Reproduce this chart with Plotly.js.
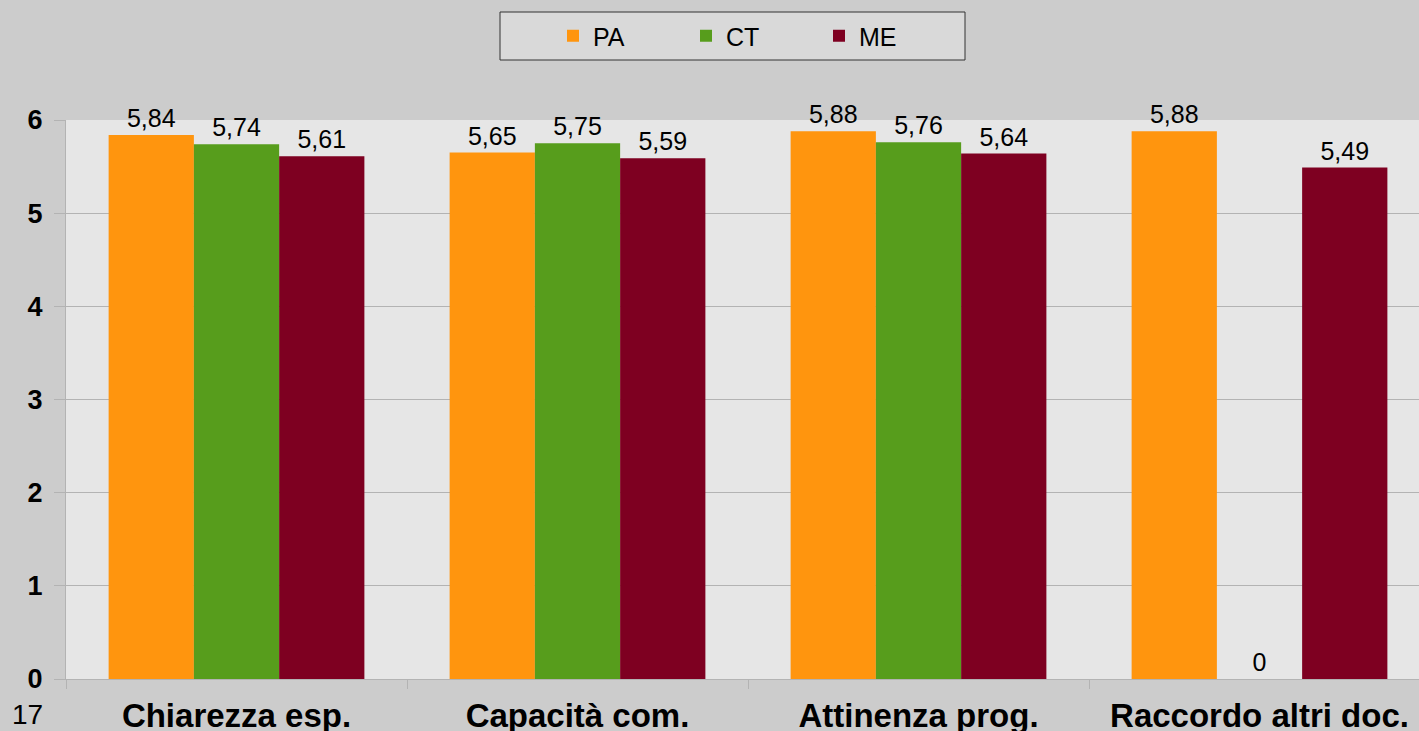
<!DOCTYPE html>
<html>
<head>
<meta charset="utf-8">
<script src="https://cdn.plot.ly/plotly-3.0.1.min.js"></script>
<style>html,body{margin:0;padding:0;background:#cccccc;}#chart{width:1419px;height:731px;}</style>
</head>
<body>
<div id="chart"></div>
<script>
const categories = ["Chiarezza esp.", "Capacità com.", "Attinenza prog.", "Raccordo altri doc."];
const seriesNames = ["PA", "CT", "ME"];
const PA = [5.84, 5.65, 5.88, 5.88];
const CT = [5.74, 5.75, 5.76, 0];
const ME = [5.61, 5.59, 5.64, 5.49];
const yTicks = [0, 1, 2, 3, 4, 5, 6];
const slideNumber = "17";

const colors = ["#ff950e", "#579d1c", "#7e0021"];
const FONT = "Liberation Sans, Arial, sans-serif";

function fmt(v) {
  return v === 0 ? "0" : v.toFixed(2).replace(".", ",");
}

const traces = [PA, CT, ME].map((vals, i) => ({
  type: "bar",
  name: seriesNames[i],
  x: categories,
  y: vals,
  text: vals.map(fmt),
  textposition: "outside",
  textfont: {family: FONT, size: 25, color: "#000000"},
  cliponaxis: false,
  marker: {color: colors[i], line: {width: 0}},
  hoverinfo: "x+y"
}));

const L = 66, W = 1419, PW = W - L;
const layout = {
  width: 1419,
  height: 731,
  margin: {l: L, r: 0, t: 120, b: 52, pad: 0},
  paper_bgcolor: "#cccccc",
  plot_bgcolor: "#e6e6e6",
  separators: ",.",
  barmode: "group",
  bargap: 0.25,
  bargroupgap: 0,
  font: {family: FONT, color: "#000000"},
  showlegend: true,
  legend: {
    orientation: "h",
    x: (553 - L) / PW,
    xanchor: "left",
    y: (679 - 36) / 559,
    yanchor: "middle",
    bgcolor: "rgba(0,0,0,0)",
    borderwidth: 0,
    entrywidth: 88,
    entrywidthmode: "pixels",
    font: {family: FONT, size: 25, color: "#000000"},
    traceorder: "normal"
  },
  shapes: [{
    type: "rect", xref: "paper", yref: "paper",
    x0: (500 - L) / PW, x1: (965 - L) / PW,
    y0: (679 - 12) / 559, y1: (679 - 60) / 559,
    fillcolor: "#d9d9d9", line: {color: "#333333", width: 1}, layer: "below"
  }],
  xaxis: {
    type: "category",
    range: [-0.5, -0.5 + PW / 341],
    tickson: "boundaries",
    ticks: "outside",
    ticklen: 9,
    tickcolor: "#b3b3b3",
    showline: true,
    linecolor: "#b3b3b3",
    linewidth: 1,
    showgrid: false,
    tickfont: {family: FONT, size: 33, color: "#000000", weight: "bold"},
    ticklabelstandoff: 7,
    fixedrange: true
  },
  yaxis: {
    range: [0, 6],
    tickvals: yTicks,
    ticktext: yTicks.map(String),
    ticks: "outside",
    ticklen: 11,
    tickcolor: "#b3b3b3",
    showline: true,
    linecolor: "#b3b3b3",
    linewidth: 1,
    showgrid: true,
    gridcolor: "#b3b3b3",
    gridwidth: 1,
    zeroline: false,
    tickfont: {family: FONT, size: 27, color: "#000000", weight: "bold"},
    ticklabelstandoff: 6,
    fixedrange: true
  },
  annotations: [{
    text: slideNumber,
    xref: "paper", yref: "paper",
    x: (10 - L) / PW, xanchor: "left",
    y: (679 - 714) / 559, yanchor: "middle",
    showarrow: false,
    font: {family: FONT, size: 28, color: "#000000"}
  }]
};

Plotly.newPlot("chart", traces, layout, {displayModeBar: false, staticPlot: false});
</script>
</body>
</html>
